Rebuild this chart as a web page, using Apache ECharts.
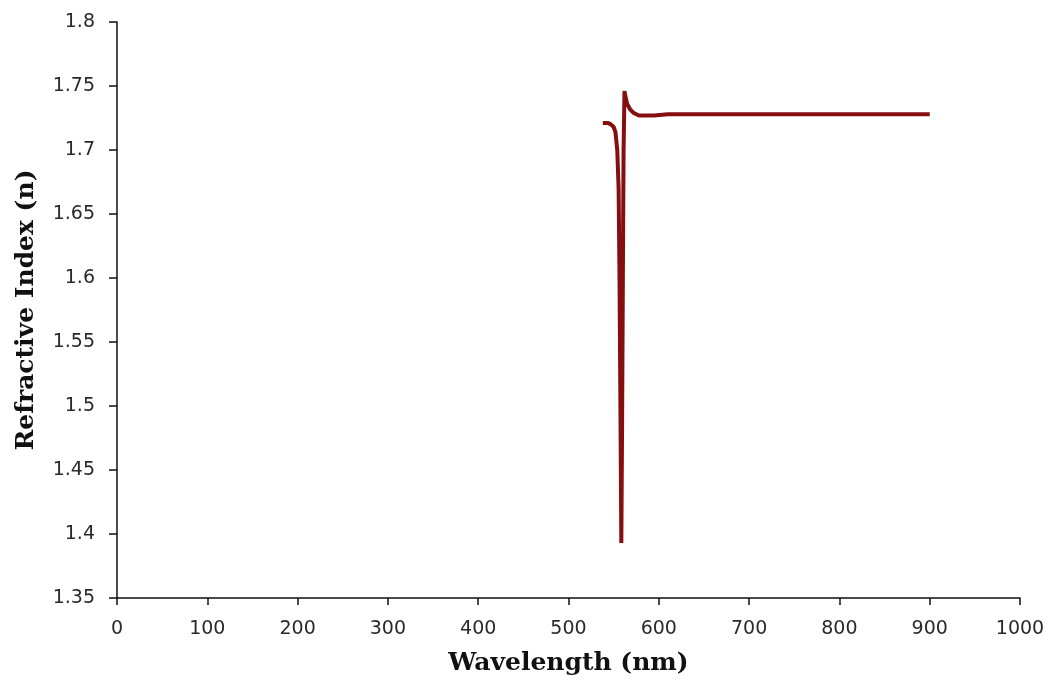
<!DOCTYPE html>
<html>
<head>
<meta charset="utf-8">
<title>Refractive Index</title>
<script src="https://cdn.jsdelivr.net/npm/echarts@6/dist/echarts.min.js"></script>
<style>
  html, body { margin: 0; padding: 0; background: #fff; }
  #main { width: 1054px; height: 690px; }
</style>
</head>
<body>
<div id="main"></div>
<script>
// wavelength (nm) and refractive index
var wavelength = [538, 541, 544, 547, 550, 552, 554, 555.5, 556.5, 557.5, 558.5, 559.3, 560.2, 561, 562, 563, 565, 568, 572, 578, 585, 595, 610, 650, 700, 800, 900];
var refIndex   = [1.721, 1.721, 1.721, 1.720, 1.718, 1.714, 1.700, 1.670, 1.600, 1.500, 1.393, 1.480, 1.600, 1.700, 1.746, 1.742, 1.736, 1.732, 1.729, 1.727, 1.727, 1.727, 1.728, 1.728, 1.728, 1.728, 1.728];

var xTicks = { min: 0, max: 1000, interval: 100 };
var yTicks = { min: 1.35, max: 1.8, interval: 0.05 };

var points = wavelength.map(function (w, i) { return [w, refIndex[i]]; });

var myChart = echarts.init(document.getElementById('main'));

var option = {
    backgroundColor: '#fff',
    animation: false,
    grid: { left: 117, right: 34, top: 22, bottom: 92, containLabel: false },
    xAxis: {
        type: 'value',
        min: xTicks.min, max: xTicks.max, interval: xTicks.interval,
        name: 'Wavelength (nm)',
        nameLocation: 'middle',
        nameGap: 53,
        nameTextStyle: { fontFamily: 'DejaVu Serif', fontWeight: 'bold', fontSize: 25, color: '#111' },
        axisLine: { show: true, lineStyle: { color: '#111', width: 1.5 } },
        axisTick: { show: true, length: 7, lineStyle: { color: '#111', width: 1.5 } },
        axisLabel: {
            fontFamily: 'DejaVu Sans', fontSize: 19, color: '#2a2a2a', margin: 22,
            formatter: function (v) { return String(v); }
        },
        splitLine: { show: false }
    },
    yAxis: {
        type: 'value',
        min: yTicks.min, max: yTicks.max, interval: yTicks.interval,
        name: 'Refractive Index (n)',
        nameLocation: 'middle',
        nameGap: 78,
        nameTextStyle: { fontFamily: 'DejaVu Serif', fontWeight: 'bold', fontSize: 25, color: '#111' },
        axisLine: { show: true, lineStyle: { color: '#111', width: 1.5 } },
        axisTick: { show: true, length: 8, lineStyle: { color: '#111', width: 1.5 } },
        axisLabel: {
            fontFamily: 'DejaVu Sans', fontSize: 19, color: '#2a2a2a', margin: 22,
            formatter: function (v) { return String(parseFloat(v.toFixed(2))); }
        },
        splitLine: { show: false }
    },
    series: [{
        type: 'line',
        data: points,
        showSymbol: false,
        smooth: false,
        lineStyle: { color: '#850e0e', width: 4 },
        itemStyle: { color: '#850e0e' }
    }]
};

myChart.setOption(option);
</script>
</body>
</html>
